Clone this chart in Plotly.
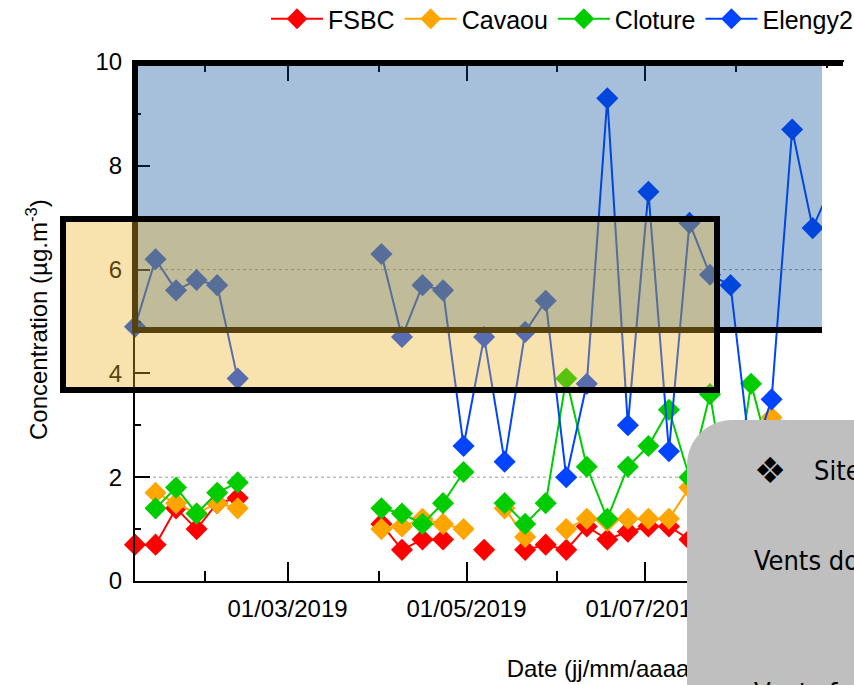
import plotly.graph_objects as go

# Weekly sampling dates (a blank week breaks the lines between campaigns)
dates = [
    "2019-01-08", "2019-01-15", "2019-01-22", "2019-01-29", "2019-02-05", "2019-02-12",
    "2019-02-19",
    "2019-04-02", "2019-04-09", "2019-04-16", "2019-04-23", "2019-04-30",
    "2019-05-07", "2019-05-14", "2019-05-21", "2019-05-28",
    "2019-06-04", "2019-06-11", "2019-06-18", "2019-06-25",
    "2019-07-02", "2019-07-09", "2019-07-16", "2019-07-23", "2019-07-30",
    "2019-08-06", "2019-08-13", "2019-08-20", "2019-08-27", "2019-09-03",
]

fsbc = [0.7, 0.7, 1.4, 1.0, 1.5, 1.6, None,
        1.1, 0.6, 0.8, 0.8, None, 0.6, None, 0.6, 0.7,
        0.6, 1.05, 0.8, 0.95, 1.05, 1.05, 0.8, 0.9, 1.0,
        0.8, 0.9, 0.7, 0.8, 0.9]
cavaou = [None, 1.7, 1.5, 1.3, 1.5, 1.4, None,
          1.0, 1.05, 1.2, 1.1, 1.0, None, 1.4, 0.85, None,
          1.0, 1.2, 1.15, 1.2, 1.2, 1.2, 1.8, 2.0, 2.2,
          2.5, 3.15, 2.0, 1.6, 1.4]
cloture = [None, 1.4, 1.8, 1.3, 1.7, 1.9, None,
           1.4, 1.3, 1.1, 1.5, 2.1, None, 1.5, 1.1, 1.5,
           3.9, 2.2, 1.2, 2.2, 2.6, 3.3, 2.0, 3.6, 1.2,
           3.8, 2.3, 1.6, 1.4, 1.5]
elengy2 = [4.9, 6.2, 5.6, 5.8, 5.7, 3.9, None,
           6.3, 4.7, 5.7, 5.6, 2.6, 4.7, 2.3, 4.8, 5.4,
           2.0, 3.8, 9.3, 3.0, 7.5, 2.5, 6.9, 5.9, 5.7,
           2.3, 3.5, 8.7, 6.8, 7.7]

series = [
    ("FSBC", fsbc, "#ff0000"),
    ("Cavaou", cavaou, "#ffa500"),
    ("Cloture", cloture, "#00cc00"),
    ("Elengy2", elengy2, "#0044ff"),
]

W, H = 854, 685
PLOT_L, PLOT_T, PLOT_B = 135, 62, 581
FONT = "Liberation Sans, Arial, sans-serif"
NARROW = "Liberation Sans Narrow, DejaVu Sans Condensed, Liberation Sans, sans-serif"


def fx(x):
    """pixel column -> paper x (paper spans the whole figure)"""
    return x / W


def fy(y):
    """pixel row -> paper y"""
    return (H - y) / H


fig = go.Figure()
for name, vals, col in series:
    fig.add_trace(go.Scatter(
        x=dates, y=vals, name=name, mode="lines+markers",
        line=dict(color=col, width=2),
        marker=dict(symbol="diamond", size=17, color=col),
        cliponaxis=False,
    ))

# x-axis title, drawn on a full-figure helper subplot (pixel units) so that
# the callout box shapes can sit on top of it
fig.add_trace(go.Scatter(
    x=[602], y=[671], xaxis="x2", yaxis="y2", mode="text",
    text=["Date (jj/mm/aaaa)"], textposition="middle center",
    textfont=dict(family=FONT, size=24, color="black"),
    showlegend=False, hoverinfo="skip",
))

shapes = []
# dotted reference lines
for v in (2, 6):
    shapes.append(dict(type="line", xref="paper", yref="y", x0=fx(PLOT_L), x1=1, y0=v, y1=v,
                       line=dict(color="#9a9a9a", width=1, dash="dot"), layer="below"))

# blue band
shapes.append(dict(type="rect", xref="paper", yref="paper",
                   x0=fx(135), x1=fx(822), y0=fy(330), y1=fy(63),
                   fillcolor="rgba(0,75,154,0.35)", line=dict(width=0), layer="above"))
for (x0, y0, x1, y1) in [(135, 60, 135, 333), (132, 63, 843, 63), (132, 330, 822, 330)]:
    shapes.append(dict(type="line", xref="paper", yref="paper",
                       x0=fx(x0), y0=fy(y0), x1=fx(x1), y1=fy(y1),
                       line=dict(color="black", width=6), layer="above"))

# orange band
shapes.append(dict(type="rect", xref="paper", yref="paper",
                   x0=fx(63), x1=fx(717), y0=fy(390), y1=fy(219),
                   fillcolor="rgba(236,180,38,0.37)", line=dict(color="black", width=6),
                   layer="above"))

# blank strip on the right
shapes.append(dict(type="rect", xref="paper", yref="paper",
                   x0=fx(822), x1=fx(860), y0=fy(420), y1=fy(68),
                   fillcolor="white", line=dict(width=0), layer="above"))
shapes.append(dict(type="rect", xref="paper", yref="paper",
                   x0=fx(844), x1=fx(860), y0=fy(68), y1=fy(50),
                   fillcolor="white", line=dict(width=0), layer="above"))

# rounded grey callout box
k = 0.5523 * 45
pts = [
    ("M", [(687, 700)]),
    ("L", [(687, 465)]),
    ("C", [(687, 465 - k), (732 - k, 420), (732, 420)]),
    ("L", [(870, 420)]),
    ("L", [(870, 700)]),
]
path = ""
for cmd, ps in pts:
    path += cmd + " ".join(f"{fx(a):.5f},{fy(b):.5f}" for a, b in ps) + " "
path += "Z"
shapes.append(dict(type="path", xref="paper", yref="paper", path=path,
                   fillcolor="#bfbfbf", line=dict(width=0), layer="above"))

annotations = [
    dict(text="Concentration (µg.m<sup>-3</sup>)", x=fx(37), y=fy(320),
         xref="paper", yref="paper", xanchor="center", yanchor="middle",
         showarrow=False, textangle=-90,
         font=dict(family=FONT, size=24, color="black")),
    dict(text="❖", x=fx(770), y=fy(470), xref="paper", yref="paper",
         xanchor="center", yanchor="middle", showarrow=False,
         font=dict(family="DejaVu Sans, sans-serif", size=36, color="black")),
    dict(text="Sites industriels", x=fx(812), y=fy(470), xref="paper", yref="paper",
         xanchor="left", yanchor="middle", showarrow=False,
         font=dict(family=NARROW, size=27, color="black")),
    dict(text="Vents dominants", x=fx(752), y=fy(560), xref="paper", yref="paper",
         xanchor="left", yanchor="middle", showarrow=False,
         font=dict(family=NARROW, size=27, color="black")),
    dict(text="Vents faibles", x=fx(752), y=fy(693), xref="paper", yref="paper",
         xanchor="left", yanchor="middle", showarrow=False,
         font=dict(family=NARROW, size=27, color="black")),
]

tickfont = dict(family=FONT, size=24, color="black")
fig.update_layout(
    width=W, height=H,
    margin=dict(l=0, r=0, t=0, b=0, pad=0, autoexpand=False),
    paper_bgcolor="white", plot_bgcolor="rgba(0,0,0,0)",
    showlegend=True,
    legend=dict(orientation="h", x=fx(266), xanchor="left", y=fy(19), yanchor="middle",
                font=dict(family=FONT, size=25, color="black"),
                bgcolor="rgba(0,0,0,0)", itemwidth=52),
    xaxis=dict(type="date", domain=[fx(PLOT_L), 1],
               range=["2019-01-08", "2019-09-10 02:00"],
               tick0="2019-03-01", dtick="M2", tickformat="%d/%m/%Y",
               ticks="inside", ticklen=19, tickwidth=2, tickcolor="black",
               showline=True, linecolor="black", linewidth=2, mirror="ticks",
               showgrid=False, zeroline=False, tickfont=tickfont, ticklabelstandoff=5,
               minor=dict(tick0="2019-02-01", dtick="M1", ticks="inside", ticklen=10,
                          tickwidth=2, tickcolor="black", showgrid=False)),
    yaxis=dict(domain=[fy(PLOT_B), fy(PLOT_T)], range=[0, 10], dtick=2,
               ticks="inside", ticklen=15, tickwidth=2,
               tickcolor="black", showline=True, linecolor="black", linewidth=2,
               showgrid=False, zeroline=False, tickfont=tickfont, ticklabelstandoff=6,
               minor=dict(dtick=1, ticks="inside", ticklen=6, tickwidth=2,
                          tickcolor="black", showgrid=False)),
    xaxis2=dict(domain=[0, 1], range=[0, W], visible=False, anchor="y2", fixedrange=True),
    yaxis2=dict(domain=[0, 1], range=[H, 0], visible=False, anchor="x2", fixedrange=True),
    shapes=shapes,
    annotations=annotations,
)

fig.write_html("out.html")
